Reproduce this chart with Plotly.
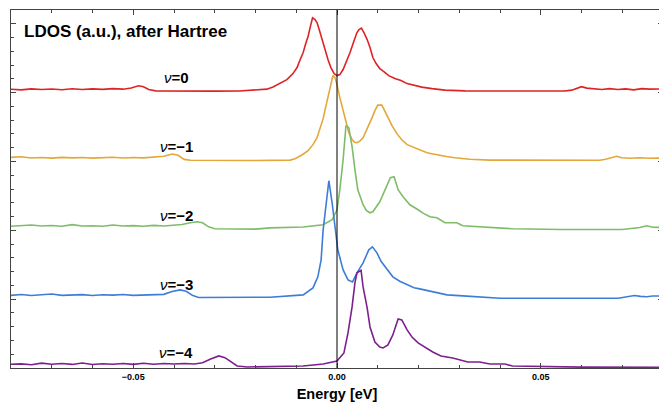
import plotly.graph_objects as go

# ---------------- data (energy in eV, LDOS in a.u.) ----------------
labels = ["0", "−1", "−2", "−3", "−4"]
offsets = [4, 3, 2, 1, 0]
colors = ["#dd2324", "#e3a73a", "#7dbd69", "#3c7ed6", "#7d1f8e"]

e_v0 = [-0.080, -0.0775, -0.075, -0.0725, -0.070, -0.0675, -0.065, -0.0625, -0.060, -0.0575, -0.055, -0.0525,
        -0.0505, -0.0487, -0.0475, -0.0462, -0.0445, -0.040, -0.030, -0.024, -0.0206, -0.0172, -0.0157, -0.0140,
        -0.0123, -0.0108, -0.0098, -0.0091, -0.0083, -0.0076, -0.0071, -0.0066, -0.0060, -0.0054, -0.0049, -0.0043,
        -0.0037, -0.0029, -0.0022, -0.0015, -0.0007, 0.0000, 0.0007, 0.0015, 0.0025, 0.0032, 0.0042, 0.0049,
        0.0054, 0.0060, 0.0066, 0.0074, 0.0081, 0.0088, 0.0096, 0.0105, 0.0115, 0.0127, 0.0142, 0.0157,
        0.0172, 0.0189, 0.0208, 0.0233, 0.0265, 0.0314, 0.040, 0.050, 0.0559, 0.0576, 0.0591, 0.0600, 0.0613,
        0.0632, 0.0650, 0.0669, 0.0689, 0.0708, 0.0728, 0.0748, 0.0767, 0.080]
d_v0 = [0.048, 0.040, 0.055, 0.045, 0.052, 0.042, 0.056, 0.046, 0.054, 0.047, 0.058, 0.050,
        0.068, 0.100, 0.085, 0.045, 0.026, 0.022, 0.021, 0.024, 0.033, 0.050, 0.083, 0.131,
        0.189, 0.276, 0.364, 0.470, 0.582, 0.727, 0.815, 0.945, 1.087, 1.062, 1.018, 0.902,
        0.771, 0.611, 0.476, 0.364, 0.276, 0.247, 0.262, 0.335, 0.466, 0.582, 0.756, 0.873,
        0.916, 0.938, 0.873, 0.771, 0.655, 0.509, 0.422, 0.349, 0.305, 0.247, 0.204, 0.175,
        0.131, 0.102, 0.080, 0.058, 0.036, 0.025, 0.022, 0.022, 0.023, 0.036, 0.073, 0.087, 0.065,
        0.051, 0.046, 0.058, 0.046, 0.054, 0.040, 0.058, 0.051, 0.054]

e_v1 = [-0.080, -0.0775, -0.075, -0.0725, -0.070, -0.0675, -0.065, -0.0625, -0.060, -0.0575, -0.055, -0.0525,
        -0.050, -0.0475, -0.045, -0.0425, -0.0404, -0.0390, -0.0375, -0.036, -0.020, -0.0115, -0.0103, -0.0086,
        -0.0071, -0.0059, -0.0049, -0.0042, -0.0034, -0.0027, -0.0020, -0.0015, -0.0010, -0.0005, 0.0000,
        0.0007, 0.0015, 0.0022, 0.0029, 0.0037, 0.0043, 0.0049, 0.0056, 0.0064, 0.0071, 0.0078, 0.0086,
        0.0093, 0.0100, 0.0110, 0.0118, 0.0125, 0.0135, 0.0147, 0.0159, 0.0172, 0.0184, 0.0196, 0.0208,
        0.0221, 0.0233, 0.0245, 0.0265, 0.0289, 0.0326, 0.0375, 0.050, 0.0645, 0.0659, 0.0674, 0.0686,
        0.0699, 0.0718, 0.0743, 0.0767, 0.080]
d_v1 = [0.060, 0.068, 0.050, 0.058, 0.048, 0.060, 0.052, 0.057, 0.049, 0.055, 0.061, 0.050,
        0.058, 0.052, 0.062, 0.075, 0.108, 0.090, 0.030, 0.017, 0.015, 0.020, 0.040, 0.094,
        0.156, 0.244, 0.345, 0.476, 0.622, 0.811, 1.000, 1.131, 1.247, 1.218, 1.116,
        0.927, 0.753, 0.564, 0.418, 0.316, 0.280, 0.273, 0.295, 0.345, 0.433, 0.535, 0.636,
        0.738, 0.818, 0.818, 0.724, 0.622, 0.520, 0.404, 0.316, 0.244, 0.215, 0.185, 0.149,
        0.127, 0.113, 0.098, 0.076, 0.055, 0.033, 0.020, 0.015, 0.017, 0.033, 0.062, 0.076,
        0.055, 0.047, 0.055, 0.047, 0.050]

e_v2 = [-0.080, -0.0775, -0.075, -0.0725, -0.070, -0.0675, -0.065, -0.0625, -0.060, -0.0575, -0.055, -0.0525,
        -0.050, -0.0475, -0.045, -0.0425, -0.040, -0.038, -0.036, -0.0343, -0.0330, -0.0315, -0.0300, -0.020,
        -0.0164, -0.0083, -0.0034, -0.0012, 0.0000, 0.0007, 0.0015, 0.0020, 0.0022, 0.0029, 0.0037, 0.0044,
        0.0051, 0.0064, 0.0072, 0.0081, 0.0088, 0.0105, 0.0118, 0.0125, 0.0131, 0.0140, 0.0150, 0.0162,
        0.0179, 0.0199, 0.0211, 0.0228, 0.0245, 0.0265, 0.0294, 0.0309, 0.0350, 0.0431, 0.055, 0.070,
        0.0743, 0.0760, 0.0775, 0.0792, 0.080]
d_v2 = [0.060, 0.072, 0.078, 0.062, 0.070, 0.058, 0.083, 0.062, 0.066, 0.058, 0.078, 0.063,
        0.068, 0.060, 0.072, 0.062, 0.075, 0.085, 0.110, 0.124, 0.110, 0.050, 0.022, 0.017,
        0.036, 0.047, 0.080, 0.153, 0.298, 0.589, 1.025, 1.360, 1.520, 1.491, 1.215, 0.880,
        0.589, 0.371, 0.290, 0.255, 0.269, 0.415, 0.589, 0.700, 0.764, 0.778, 0.589, 0.487,
        0.371, 0.298, 0.250, 0.196, 0.182, 0.109, 0.109, 0.065, 0.051, 0.022, 0.012, 0.012,
        0.040, 0.065, 0.045, 0.036, 0.040]

e_v3 = [-0.080, -0.0775, -0.075, -0.0725, -0.070, -0.0675, -0.065, -0.0625, -0.060, -0.0575, -0.055, -0.0525,
        -0.050, -0.0475, -0.045, -0.0425, -0.0405, -0.0385, -0.037, -0.0355, -0.034, -0.020, -0.0164, -0.0083,
        -0.0059, -0.0047, -0.0039, -0.0034, -0.0027, -0.0020, -0.0012, -0.0005, 0.0002, 0.0015, 0.0027,
        0.0038, 0.0049, 0.0064, 0.0078, 0.0087, 0.0098, 0.0108, 0.0120, 0.0137, 0.0154, 0.0172, 0.0189,
        0.0203, 0.0221, 0.0240, 0.0270, 0.0309, 0.0350, 0.040, 0.069, 0.0711, 0.0730, 0.0745, 0.0760,
        0.0775, 0.0792, 0.080]
d_v3 = [0.055, 0.068, 0.052, 0.062, 0.075, 0.055, 0.060, 0.066, 0.052, 0.064, 0.058, 0.068,
        0.055, 0.062, 0.058, 0.070, 0.110, 0.135, 0.115, 0.055, 0.025, 0.020, 0.028, 0.062,
        0.164, 0.324, 0.571, 1.007, 1.400, 1.720, 1.400, 1.007, 0.716, 0.425, 0.280,
        0.251, 0.382, 0.527, 0.716, 0.760, 0.673, 0.550, 0.450, 0.324, 0.260, 0.207, 0.165,
        0.149, 0.125, 0.091, 0.062, 0.047, 0.028, 0.014, 0.014, 0.030, 0.052, 0.040, 0.035,
        0.045, 0.052, 0.048]

e_v4 = [-0.080, -0.0775, -0.075, -0.0725, -0.070, -0.0675, -0.065, -0.0625, -0.060, -0.0575, -0.055, -0.0525,
        -0.050, -0.0475, -0.045, -0.0425, -0.040, -0.0375, -0.035, -0.033, -0.031, -0.029, -0.0275, -0.026,
        -0.0245, -0.022, -0.012, -0.0083, -0.0034, 0.0000, 0.0017, 0.0027, 0.0037, 0.0044, 0.0049, 0.0059,
        0.0064, 0.0074, 0.0081, 0.0093, 0.0105, 0.0113, 0.0125, 0.0137, 0.0150, 0.0159, 0.0172, 0.0184,
        0.0199, 0.0221, 0.0235, 0.0255, 0.0284, 0.0321, 0.0350, 0.0375, 0.0412, 0.0431, 0.050, 0.060, 0.080]
d_v4 = [0.055, 0.060, 0.048, 0.070, 0.055, 0.066, 0.052, 0.072, 0.050, 0.062, 0.055, 0.065,
        0.052, 0.068, 0.055, 0.066, 0.058, 0.065, 0.058, 0.075, 0.130, 0.175, 0.150, 0.085,
        0.030, 0.015, 0.018, 0.029, 0.058, 0.102, 0.218, 0.509, 0.887, 1.236, 1.382, 1.420,
        1.178, 0.873, 0.596, 0.378, 0.305, 0.291, 0.335, 0.480, 0.713, 0.698, 0.553, 0.451,
        0.364, 0.276, 0.233, 0.175, 0.145, 0.087, 0.087, 0.058, 0.058, 0.029, 0.019, 0.012, 0.010]

energies = [e_v0, e_v1, e_v2, e_v3, e_v4]
ldos = [d_v0, d_v1, d_v2, d_v3, d_v4]

# ---------------- figure ----------------
FONT = "Liberation Sans, Arial, Helvetica, sans-serif"
fig = go.Figure()
for e, d, off, col in zip(energies, ldos, offsets, colors):
    fig.add_trace(go.Scatter(x=e, y=[v + off for v in d], mode="lines",
                             line=dict(color=col, width=1.6), showlegend=False,
                             hoverinfo="skip"))

for lab, off in zip(labels, offsets):
    fig.add_annotation(x=-0.0395, y=off + 0.22, xref="x", yref="y",
                       text="<i>ν</i><b>=" + lab + "</b>", showarrow=False,
                       font=dict(family=FONT, size=15, color="black"))

fig.add_annotation(x=0.017, y=0.94, xref="paper", yref="paper", xanchor="left", yanchor="middle",
                   text="<b>LDOS (a.u.), after Hartree</b>", showarrow=False,
                   font=dict(family=FONT, size=17, color="black"))

fig.add_shape(type="line", x0=0, x1=0, y0=0, y1=1, xref="x", yref="paper",
              line=dict(color="black", width=1))

# the page body has an 8px margin, so the figure is sized to fit the 667x405 window
fig.update_layout(
    width=659, height=397,
    margin=dict(l=3, r=4, t=2, b=37),
    plot_bgcolor="white", paper_bgcolor="white",
    font=dict(family=FONT, color="black"),
    xaxis=dict(range=[-0.08, 0.08], tick0=0, dtick=0.05, tickformat=".2f",
               ticks="inside", ticklen=5, tickcolor="#444", showgrid=False, zeroline=False,
               showline=True, linecolor="#444", linewidth=1, mirror="ticks",
               tickfont=dict(family=FONT, size=9, color="black", weight="bold"),
               minor=dict(dtick=0.01, ticks="inside", ticklen=3, tickcolor="#444"),
               title=dict(text="<b>Energy [eV]</b>", font=dict(family=FONT, size=14.5, color="black"),
                          standoff=8)),
    yaxis=dict(range=[0, 5.2], tick0=0, dtick=1, showticklabels=False,
               ticks="inside", ticklen=5, tickcolor="#444", showgrid=False, zeroline=False,
               showline=True, linecolor="#444", linewidth=1, mirror="ticks",
               minor=dict(dtick=0.2, ticks="inside", ticklen=3, tickcolor="#444")),
)

fig.write_html("out.html")
